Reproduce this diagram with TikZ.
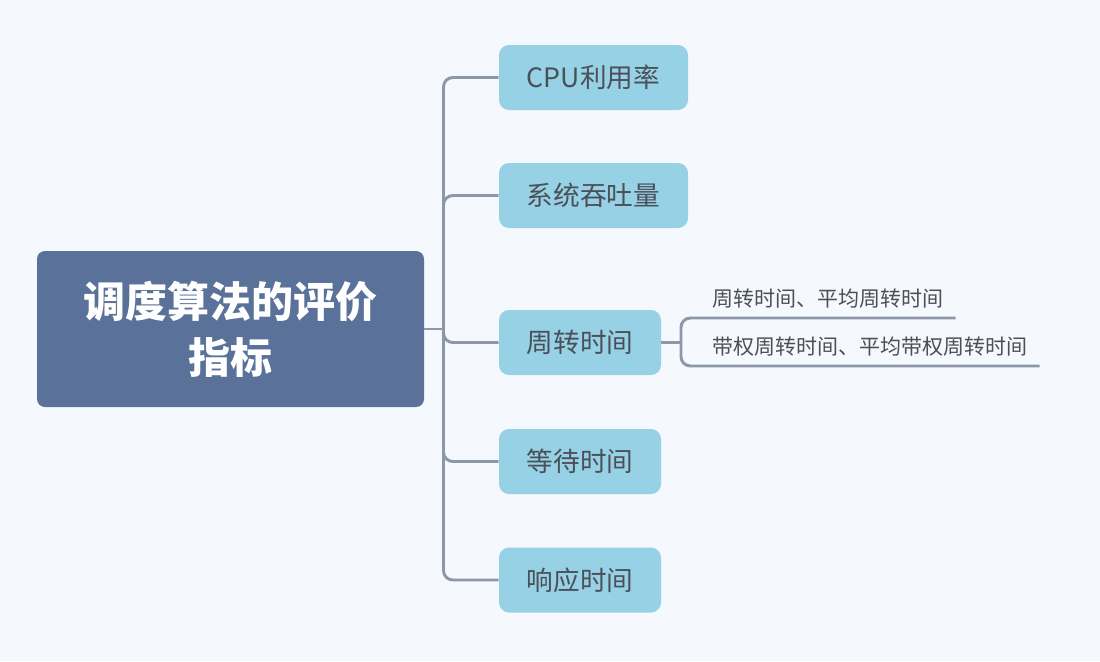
\documentclass[tikz,border=0pt]{standalone}
\usepackage{fontspec}
\setmainfont{Noto Sans CJK SC}
\usepackage{tikz}

\definecolor{bgblue}{HTML}{F5F9FD}
\definecolor{rootblue}{HTML}{5A7299}
\definecolor{topicblue}{HTML}{96D1E6}
\definecolor{textgray}{HTML}{4B5058}
\definecolor{linegray}{HTML}{8D97A8}

\begin{document}
\begin{tikzpicture}[x=0.75pt, y=-0.75pt,
		root/.style={fill=rootblue, text=white, font=\fontsize{31.5}{42}\selectfont\bfseries, align=center, rounded corners=6pt, minimum width=290.25pt, minimum height=117pt},
		topic/.style={fill=topicblue, text=textgray, font=\fontsize{20}{24}\selectfont, rounded corners=7.5pt, minimum height=48.75pt},
		sub/.style={text=textgray, font=\fontsize{15.75}{18}\selectfont, inner xsep=9pt, inner ysep=7pt, anchor=south west},
		link/.style={draw=linegray, line width=2.2pt, rounded corners=7pt}]
				\fill [bgblue] (0,0) rectangle (1100,661);
				\useasboundingbox (0,0) rectangle (1100,661);
				
				\node [root] (root) at (230.5,329) {调度算法的评价\\指标};
				
				\node [topic, minimum width=141.75pt] (cpu) at (593.5,77.5) {CPU利用率};
				\node [topic, minimum width=141.75pt] (tput) at (593.5,195.5) {系统吞吐量};
				\node [topic, minimum width=121.5pt] (turn) at (580,342.5) {周转时间};
				\node [topic, minimum width=121.5pt] (wait) at (580,461.5) {等待时间};
				\node [topic, minimum width=121.5pt] (resp) at (580,580) {响应时间};
				
				\coordinate (j1) at (443.5,329);
				\draw [link] (root.east) -- (j1);
				\draw [link] (j1) |- (cpu.west);
				\draw [link] (j1) |- (tput.west);
				\draw [link] (j1) |- (turn.west);
				\draw [link] (j1) |- (wait.west);
				\draw [link] (j1) |- (resp.west);
				
				\node [sub] (avg) at (700,318) {周转时间、平均周转时间};
				\node [sub] (wavg) at (700,366) {带权周转时间、平均带权周转时间};
				
				\coordinate (j2) at (681,342.5);
				\draw [link] (turn.east) -- (j2);
				\draw [link] (j2) |- (avg.south west) -- (avg.south east);
				\draw [link] (j2) |- (wavg.south west) -- (wavg.south east);
\end{tikzpicture}
\end{document}
